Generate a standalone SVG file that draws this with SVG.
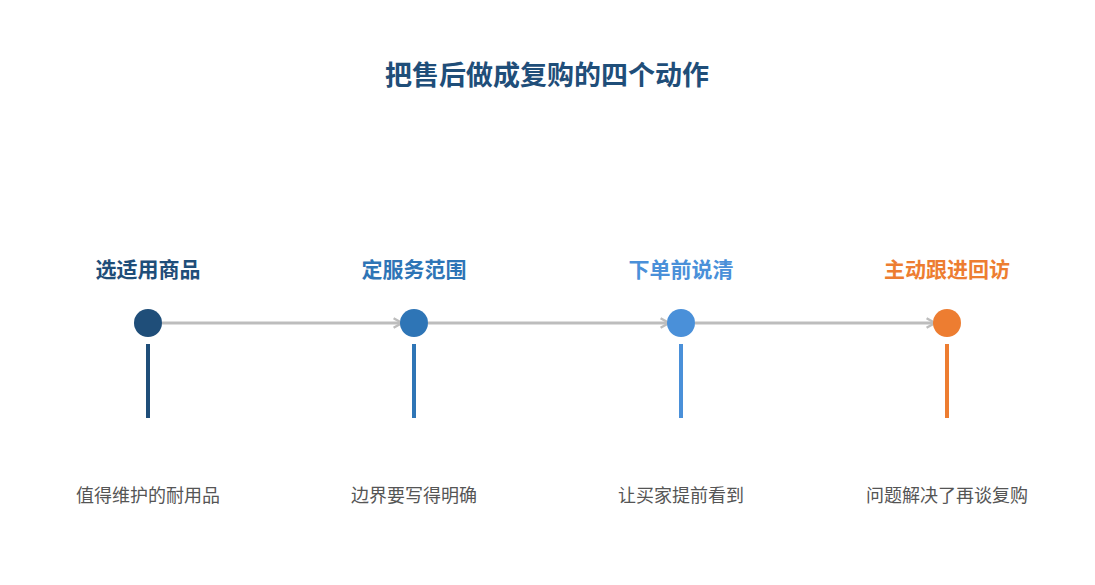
<svg xmlns="http://www.w3.org/2000/svg" width="1095" height="585" viewBox="0 0 1095 585">
<style>
.t{font-family:"Noto Sans CJK SC","Liberation Sans",sans-serif;font-weight:bold;font-size:21px;text-anchor:middle}
.d{font-family:"Noto Sans CJK SC","Liberation Sans",sans-serif;font-size:18px;fill:#555;text-anchor:middle}
.c{stroke:#bdbdbd;stroke-width:3;fill:none}
</style>
<defs><marker id="a" viewBox="0 0 10 10" refX="8" refY="5" markerWidth="4" markerHeight="4" orient="auto"><path d="M1,1 L8,5 L1,9" fill="none" stroke="#bdbdbd" stroke-width="2"/></marker></defs>
<rect width="1095" height="585" fill="#fff"/>
<text x="547" y="85" class="t" style="font-size:27px" fill="#1f4e79">把售后做成复购的四个动作</text>
<g id="connectors">
<line class="c" x1="162" y1="323" x2="402" y2="323" marker-end="url(#a)"/>
<line class="c" x1="428" y1="323" x2="669" y2="323" marker-end="url(#a)"/>
<line class="c" x1="695" y1="323" x2="935" y2="323" marker-end="url(#a)"/>
</g>
<g id="n1"><text x="148" y="277" class="t" fill="#1f4e79">选适用商品</text><circle cx="148" cy="323" r="14" fill="#1f4e79"/><rect x="146" y="344" width="4" height="74" fill="#1f4e79"/><text x="148" y="502" class="d">值得维护的耐用品</text></g>
<g id="n2"><text x="414" y="277" class="t" fill="#2e75b6">定服务范围</text><circle cx="414" cy="323" r="14" fill="#2e75b6"/><rect x="412" y="344" width="4" height="74" fill="#2e75b6"/><text x="414" y="502" class="d">边界要写得明确</text></g>
<g id="n3"><text x="681" y="277" class="t" fill="#4a90d9">下单前说清</text><circle cx="681" cy="323" r="14" fill="#4a90d9"/><rect x="679" y="344" width="4" height="74" fill="#4a90d9"/><text x="681" y="502" class="d">让买家提前看到</text></g>
<g id="n4"><text x="947" y="277" class="t" fill="#ed7d31">主动跟进回访</text><circle cx="947" cy="323" r="14" fill="#ed7d31"/><rect x="945" y="344" width="4" height="74" fill="#ed7d31"/><text x="947" y="502" class="d">问题解决了再谈复购</text></g>
</svg>
